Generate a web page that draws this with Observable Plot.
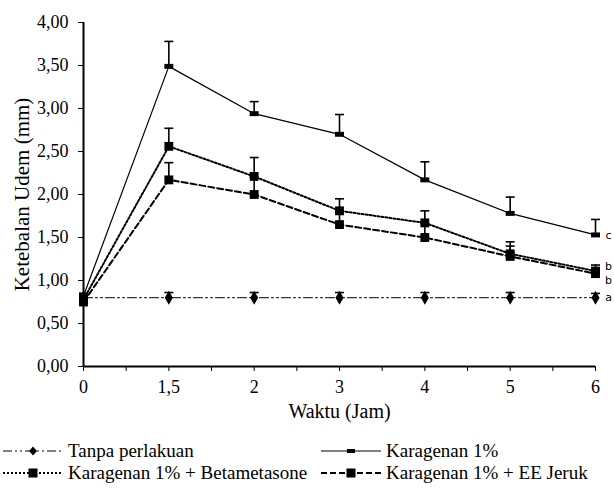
<!DOCTYPE html>
<html>
<head>
<meta charset="utf-8">
<script src="https://cdn.jsdelivr.net/npm/d3@7"></script>
<script src="https://cdn.jsdelivr.net/npm/@observablehq/plot@0.6"></script>
<style>
  body { margin: 0; background: #fff; }
  #chart { width: 614px; height: 488px; position: relative; font-family: 'Liberation Serif', 'Times New Roman', serif; }
  .legend { position: absolute; left: 0; top: 440px; width: 614px; font-size: 19px; color: #000; font-family: 'Liberation Serif', 'Times New Roman', serif; }
  .row { display: block; position: relative; height: 22px; }
  .item { display: flex; align-items: center; height: 22px; white-space: nowrap; }
  .item svg { margin-right: 4px; }
</style>
</head>
<body>
<div id="chart"></div>
<script>
// ---- data ----
const categories = ["0", "1,5", "2", "3", "4", "5", "6"];
const seriesNames = ["Tanpa perlakuan", "Karagenan 1%", "Karagenan 1% + Betametasone", "Karagenan 1% + EE Jeruk"];
const tanpa      = [0.80, 0.80, 0.80, 0.80, 0.80, 0.80, 0.80];
const tanpaSD    = [0.05, 0.06, 0.06, 0.06, 0.06, 0.06, 0.05];
const karagenan  = [0.82, 3.49, 2.94, 2.70, 2.17, 1.78, 1.53];
const karagenanSD= [0.03, 0.29, 0.14, 0.23, 0.21, 0.19, 0.18];
const beta       = [0.78, 2.56, 2.21, 1.81, 1.67, 1.31, 1.11];
const betaSD     = [0.03, 0.21, 0.22, 0.14, 0.14, 0.14, 0.07];
const ee         = [0.75, 2.17, 2.00, 1.65, 1.50, 1.28, 1.08];
const eeSD       = [0.03, 0.20, 0.20, 0.15, 0.16, 0.12, 0.06];
const letters    = ["a", "c", "b", "b"];
const yTicks = [0, 0.5, 1, 1.5, 2, 2.5, 3, 3.5, 4];

const SERIF = "'Liberation Serif', 'Times New Roman', serif";

// ---- custom symbols ----
const hline = { draw(ctx, size) { const w = Math.sqrt(size / Math.PI); ctx.moveTo(-w, 0); ctx.lineTo(w, 0); } };
const flatRect = { draw(ctx, size) { const w = Math.sqrt(size / Math.PI); ctx.rect(-w, -w * 0.55, 2 * w, w * 1.1); } };

const valuesAll = [tanpa, karagenan, beta, ee];
const sdAll = [tanpaSD, karagenanSD, betaSD, eeSD];
const styles = [
  { dash: "9,3,2,3,2,3", width: 1, symbol: "diamond", r: 4.2 },
  { dash: null, width: 1.2, symbol: flatRect, r: 4.5 },
  { dash: "2,2", width: 2, symbol: "square", r: 5 },
  { dash: "6,3", width: 2, symbol: "square", r: 5 }
];

const rows = seriesNames.map((name, s) => categories.map((c, i) => ({
  series: name, s, i, v: valuesAll[s][i], top: valuesAll[s][i] + sdAll[s][i]
})));

const marks = [];
rows.forEach((data, s) => {
  marks.push(Plot.line(data, { x: "i", y: "v", stroke: "black", strokeWidth: styles[s].width, strokeDasharray: styles[s].dash }));
});
rows.forEach((data) => {
  marks.push(Plot.ruleX(data, { x: "i", y1: "v", y2: "top", stroke: "black", strokeWidth: 1.6 }));
  marks.push(Plot.dot(data, { x: "i", y: "top", symbol: hline, r: 4.5, stroke: "black", strokeWidth: 1.6, fill: "none" }));
});
rows.forEach((data, s) => {
  marks.push(Plot.dot(data, { x: "i", y: "v", symbol: styles[s].symbol, r: styles[s].r, fill: "black", stroke: "none" }));
});
const last = categories.length - 1;
const letterDy = [0, 1, -5, 7];
seriesNames.forEach((n, s) => {
  marks.push(Plot.text([{ i: last, v: valuesAll[s][last], t: letters[s] }], { x: "i", y: "v", text: "t", dx: 13, dy: letterDy[s], fontFamily: "'DejaVu Sans', sans-serif", fontSize: 11, fill: "black" }));
});
marks.push(Plot.axisY({
  ticks: yTicks, tickSize: 5, tickFormat: (d) => d.toFixed(2).replace(".", ","), fontSize: 18, tickPadding: 10,
  fontFamily: SERIF,
  label: null
}));
marks.push(Plot.axisX({
  ticks: d3.range(0, 6.01, 0.5), tickSize: 5,
  tickFormat: (d) => Number.isInteger(d) ? categories[d] : "", fontSize: 18, tickPadding: 9,
  fontFamily: SERIF,
  label: null
}));
// axis titles
marks.push(Plot.text(["Ketebalan Udem (mm)"], { frameAnchor: "left", textAnchor: "middle", rotate: -90, dx: -61, fontSize: 21, fontFamily: SERIF, fill: "black", lineAnchor: "middle" }));
marks.push(Plot.text(["Waktu (Jam)"], { frameAnchor: "bottom", textAnchor: "middle", dy: 45, fontSize: 20, fontFamily: SERIF, fill: "black", lineAnchor: "middle" }));
marks.push(Plot.ruleX([0], { stroke: "black", strokeWidth: 2 }));
marks.push(Plot.ruleY([0], { stroke: "black", strokeWidth: 2 }));

const plot = Plot.plot({
  width: 614, height: 430,
  marginLeft: 83, marginRight: 19, marginTop: 22, marginBottom: 64,
  x: { domain: [0, 6], axis: null },
  y: { domain: [0, 4], axis: null },
  style: { fontFamily: SERIF, fontSize: "18px", color: "black", background: "white" },
  marks
});
plot.style.position = "absolute"; plot.style.left = "0"; plot.style.top = "0";
const chart = document.getElementById("chart");
chart.appendChild(plot);

// ---- legend (HTML) ----
const legend = document.createElement("div");
legend.className = "legend";
const order = [[0, 1], [2, 3]];
const colLeft = [2, 320];
order.forEach((pair) => {
  const row = document.createElement("div");
  row.className = "row";
  pair.forEach((s, k) => {
    const item = document.createElement("div");
    item.className = "item";
    item.style.position = "absolute";
    item.style.left = colLeft[k] + "px";
    item.style.top = "0";
    const st = styles[s];
    const w = 62, h = 14;
    let markerSvg;
    if (s === 0) markerSvg = `<path d="M${w/2},${h/2-4.5}L${w/2+4},${h/2}L${w/2},${h/2+4.5}L${w/2-4},${h/2}Z" fill="black"/>`;
    else if (s === 1) markerSvg = `<rect x="${w/2-4}" y="${h/2-2}" width="8" height="4" fill="black"/>`;
    else markerSvg = `<rect x="${w/2-4.5}" y="${h/2-4.5}" width="9" height="9" fill="black"/>`;
    item.innerHTML = `<svg width="${w}" height="${h}"><line x1="1" x2="${w-1}" y1="${h/2}" y2="${h/2}" stroke="black" stroke-width="${st.width}" ${st.dash ? `stroke-dasharray="${st.dash}"` : ""}/>${markerSvg}</svg><span>${seriesNames[s]}</span>`;
    row.appendChild(item);
  });
  legend.appendChild(row);
});
chart.appendChild(legend);
</script>
</body>
</html>
